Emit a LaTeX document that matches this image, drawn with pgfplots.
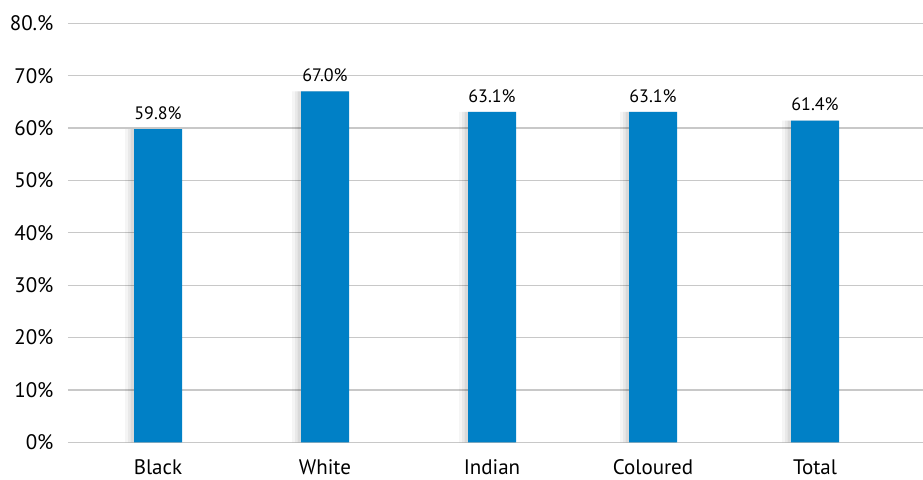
\documentclass[border=0pt]{standalone}
\usepackage{pgfplots}
\pgfplotsset{compat=1.18}
\usepackage{fontspec}
\setmainfont{PT Sans}
\definecolor{barblue}{RGB}{0,128,198}
\definecolor{gridgray}{RGB}{200,200,200}
\pgfplotstableread{
x y
158 59.8
325 67.0
492 63.1
653 63.1
815 61.4
}\datatable
\begin{document}
\begin{tikzpicture}
\begin{axis}[
  at={(0,0)}, anchor=origin,
  scale only axis,
  width=855pt, height=419pt,
  xmin=68, xmax=923,
  ymin=0, ymax=80,
  axis line style={draw=none},
  ytick={0,10,...,80},
  yticklabels={0\%,10\%,20\%,30\%,40\%,50\%,60\%,70\%,80.\%},
  ymajorgrids,
  grid style={gridgray, line width=1.3pt},
  major tick length=0pt,
  xtick={158,325,492,653,815},
  xticklabels={Black,White,Indian,Coloured,Total},
  /pgf/number format/assume math mode=true,
  tick label style={font=\fontsize{21}{24}\selectfont, text=black},
  yticklabel style={xshift=-11pt},
  xticklabel style={yshift=-14pt},
  clip=false,
]
\addplot[ybar, bar width=56pt, bar shift=-5pt, fill=black, fill opacity=0.04, draw=none] table[x=x,y=y] {\datatable};
\addplot[ybar, bar width=53pt, bar shift=-3.5pt, fill=black, fill opacity=0.05, draw=none] table[x=x,y=y] {\datatable};
\addplot[ybar, bar width=51pt, bar shift=-2pt, fill=black, fill opacity=0.07, draw=none] table[x=x,y=y] {\datatable};
\addplot[ybar, bar width=48pt, bar shift=0pt, fill=barblue, draw=none,
  point meta=y,
  nodes near coords={\pgfmathprintnumber[fixed,fixed zerofill,precision=1]{\pgfplotspointmeta}\%},
  nodes near coords style={font=\fontsize{18}{21}\selectfont, text=black, yshift=6pt}]
  table[x=x,y=y] {\datatable};
\end{axis}
\pgfresetboundingbox
\useasboundingbox (-68pt,-36.7pt) rectangle (855pt,442.3pt);
\end{tikzpicture}
\end{document}
